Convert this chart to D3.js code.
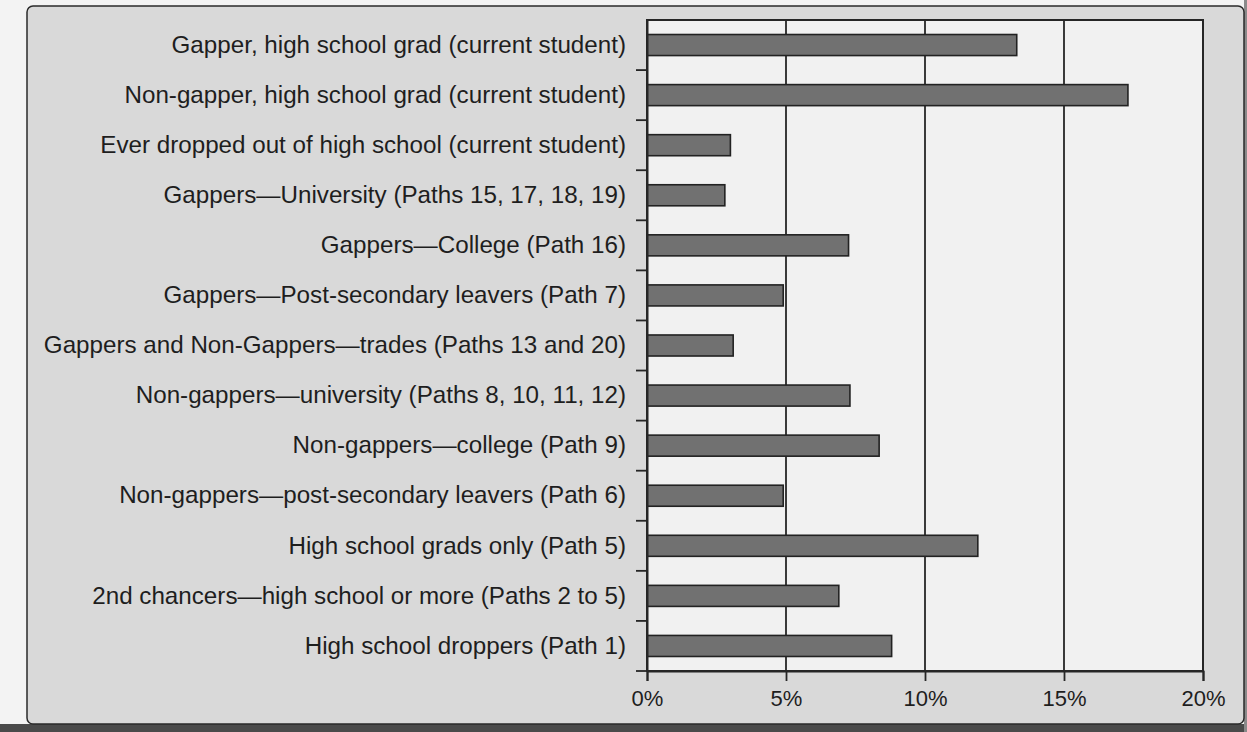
<!DOCTYPE html>
<html>
<head>
<meta charset="utf-8">
<script src="https://cdn.jsdelivr.net/npm/d3@7"></script>
<style>
  html, body { margin: 0; padding: 0; background: #f3f3f3; }
  svg { display: block; }
  text { font-family: "Liberation Sans", Arial, sans-serif; fill: #1e1e1e; }
</style>
</head>
<body>
<svg id="chart" width="1247" height="732"></svg>
<script>
const categories = [
  "Gapper, high school grad (current student)",
  "Non-gapper, high school grad (current student)",
  "Ever dropped out of high school (current student)",
  "Gappers\u2014University (Paths 15, 17, 18, 19)",
  "Gappers\u2014College (Path 16)",
  "Gappers\u2014Post-secondary leavers (Path 7)",
  "Gappers and Non-Gappers\u2014trades (Paths 13 and 20)",
  "Non-gappers\u2014university (Paths 8, 10, 11, 12)",
  "Non-gappers\u2014college (Path 9)",
  "Non-gappers\u2014post-secondary leavers (Path 6)",
  "High school grads only (Path 5)",
  "2nd chancers\u2014high school or more (Paths 2 to 5)",
  "High school droppers (Path 1)"
];
const values = [13.3, 17.3, 3.0, 2.8, 7.25, 4.9, 3.1, 7.3, 8.35, 4.9, 11.9, 6.9, 8.8];
const xTicks = [0, 5, 10, 15, 20];
const xTickLabels = ["0%", "5%", "10%", "15%", "20%"];

const svg = d3.select("#chart");
const W = 1247, H = 732;
const plot = { left: 647, right: 1203, top: 20, bottom: 671 };

// page / frame background
svg.append("rect").attr("x", 0).attr("y", 724).attr("width", W).attr("height", H - 724).attr("fill", "#4a4a4a");
svg.append("rect").attr("x", 1244).attr("y", 0).attr("width", 3).attr("height", H).attr("fill", "#8a8a8a");
svg.append("rect")
  .attr("x", 27).attr("y", 6).attr("width", 1217).attr("height", 718)
  .attr("rx", 6)
  .attr("fill", "#d9d9d9").attr("stroke", "#2a2a2a").attr("stroke-width", 1.5);

const x = d3.scaleLinear().domain([0, 20]).range([plot.left, plot.right]);
const y = d3.scaleBand().domain(categories).range([plot.top, plot.bottom]).paddingInner(0.58).paddingOuter(0.29);

// plot area
svg.append("rect")
  .attr("x", plot.left).attr("y", plot.top)
  .attr("width", plot.right - plot.left).attr("height", plot.bottom - plot.top)
  .attr("fill", "#f1f1f1").attr("stroke", "#262626").attr("stroke-width", 2);

// gridlines
svg.append("g").selectAll("line").data(xTicks.filter(t => t > 0 && t < 20)).join("line")
  .attr("x1", d => x(d)).attr("x2", d => x(d))
  .attr("y1", plot.top).attr("y2", plot.bottom)
  .attr("stroke", "#262626").attr("stroke-width", 1.8);

// bars
svg.append("g").selectAll("rect").data(values).join("rect")
  .attr("x", x(0))
  .attr("y", (d, i) => y(categories[i]))
  .attr("width", d => x(d) - x(0))
  .attr("height", y.bandwidth())
  .attr("fill", "#717171").attr("stroke", "#222").attr("stroke-width", 1.6);

// x axis
const xAxis = d3.axisBottom(x).tickValues(xTicks).tickFormat((d, i) => xTickLabels[i]).tickSize(10).tickPadding(9);
const gx = svg.append("g").attr("transform", `translate(0,${plot.bottom})`).call(xAxis);
gx.select(".domain").attr("stroke", "#262626").attr("stroke-width", 2);
gx.selectAll(".tick line").attr("stroke", "#262626").attr("stroke-width", 1.8);
gx.selectAll(".tick text").attr("font-size", 22).attr("fill", "#1e1e1e");

// y axis (labels, with ticks at category boundaries)
const yAxis = d3.axisLeft(y).tickSize(0).tickPadding(21);
const gy = svg.append("g").attr("transform", `translate(${plot.left},0)`).call(yAxis);
gy.select(".domain").attr("stroke", "#262626").attr("stroke-width", 2);
gy.selectAll(".tick text").attr("font-size", 24.2).attr("fill", "#1e1e1e");

const step = y.step();
const bounds = categories.map((c, i) => y(c) - y.paddingInner() * step / 2).concat([plot.bottom]).slice(1);
svg.append("g").selectAll("line").data(bounds).join("line")
  .attr("x1", plot.left - 11).attr("x2", plot.left)
  .attr("y1", d => d).attr("y2", d => d)
  .attr("stroke", "#262626").attr("stroke-width", 1.8);
</script>
</body>
</html>
